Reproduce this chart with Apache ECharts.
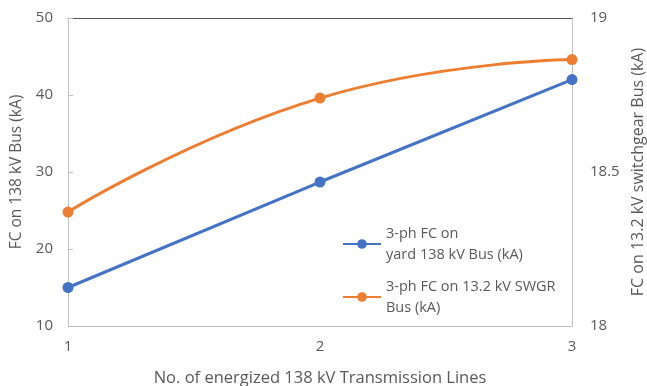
<!DOCTYPE html>
<html>
<head>
<meta charset="utf-8">
<script src="https://cdn.jsdelivr.net/npm/echarts@6/dist/echarts.min.js"></script>
<style>
  html, body { margin: 0; padding: 0; background: #fff; }
  #chart { width: 647px; height: 386px; }
</style>
</head>
<body>
<div id="chart"></div>
<script>
// Number of energized 138 kV transmission lines
const lineCounts = ['1', '2', '3'];
// Fault current on the yard 138 kV bus (kA), left axis
const yardBusFC = [15, 28.7, 42];
// Fault current on the 13.2 kV switchgear bus (kA), right axis
const swgrBusFC = [18.37, 18.74, 18.865];

const seriesNames = ['3-ph FC on yard 138 kV Bus (kA)', '3-ph FC on 13.2 kV SWGR Bus (kA)'];
const legendText = {
  '3-ph FC on yard 138 kV Bus (kA)': '3-ph FC on\nyard 138 kV Bus (kA)',
  '3-ph FC on 13.2 kV SWGR Bus (kA)': '3-ph FC on 13.2 kV SWGR\nBus (kA)'
};

const FONT = '"Open Sans", "Noto Sans", sans-serif';
const TXT = '#595959';
const AXIS = '#bfbfbf';

const chart = echarts.init(document.getElementById('chart'), null, { renderer: 'canvas' });
chart.setOption({
  animation: false,
  textStyle: { fontFamily: FONT },
  grid: { left: 68, right: 75, top: 18, bottom: 60, containLabel: false, outerBoundsMode: 'none' },
  legend: {
    orient: 'vertical',
    left: 337,
    top: 218,
    itemWidth: 38,
    itemHeight: 12,
    itemGap: 11,
    data: seriesNames,
    formatter: name => legendText[name],
    textStyle: { fontFamily: FONT, fontSize: 14.5, color: TXT, lineHeight: 21 }
  },
  xAxis: [{
    type: 'category',
    data: lineCounts,
    boundaryGap: false,
    name: 'No. of energized 138 kV Transmission Lines',
    nameLocation: 'middle',
    nameGap: 44,
    nameTextStyle: { fontFamily: FONT, fontSize: 16.5, color: TXT },
    axisLine: { lineStyle: { color: AXIS, width: 1 } },
    axisTick: { show: false },
    axisLabel: { fontFamily: FONT, fontSize: 15, color: TXT, margin: 13 },
    splitLine: { show: false }
  }, {
    type: 'category',
    data: lineCounts,
    boundaryGap: false,
    position: 'top',
    axisLine: { lineStyle: { color: '#595959', width: 1 } },
    axisTick: { show: false },
    axisLabel: { show: false },
    splitLine: { show: false }
  }],
  yAxis: [{
    type: 'value',
    min: 10, max: 50, interval: 10,
    name: 'FC on 138 kV Bus (kA)',
    nameLocation: 'middle',
    nameGap: 40,
    nameTextStyle: { fontFamily: FONT, fontSize: 15.5, color: TXT },
    axisLine: { show: true, lineStyle: { color: AXIS } },
    axisTick: { show: true, inside: true, length: 5, lineStyle: { color: AXIS } },
    axisLabel: { fontFamily: FONT, fontSize: 15, color: TXT, margin: 15 },
    splitLine: { show: false }
  }, {
    type: 'value',
    min: 18, max: 19, interval: 0.5,
    position: 'right',
    name: 'FC on 13.2 kV switchgear Bus (kA)',
    nameLocation: 'middle',
    nameGap: 55,
    nameRotate: 90,
    nameTextStyle: { fontFamily: FONT, fontSize: 16, color: TXT },
    axisLine: { show: true, lineStyle: { color: AXIS } },
    axisTick: { show: false },
    axisLabel: { fontFamily: FONT, fontSize: 15, color: TXT, margin: 18 },
    splitLine: { show: false }
  }],
  series: [{
    name: seriesNames[0],
    type: 'line',
    xAxisIndex: 0,
    yAxisIndex: 0,
    data: yardBusFC,
    symbol: 'circle',
    symbolSize: 11,
    color: '#4472C4',
    lineStyle: { width: 3, color: '#4472C4' },
    itemStyle: { color: '#4472C4' }
  }, {
    name: seriesNames[1],
    type: 'line',
    xAxisIndex: 0,
    yAxisIndex: 1,
    data: swgrBusFC,
    smooth: 0.5,
    symbol: 'circle',
    symbolSize: 11,
    color: '#ED7D31',
    lineStyle: { width: 3, color: '#ED7D31' },
    itemStyle: { color: '#ED7D31' }
  }]
});
</script>
</body>
</html>
